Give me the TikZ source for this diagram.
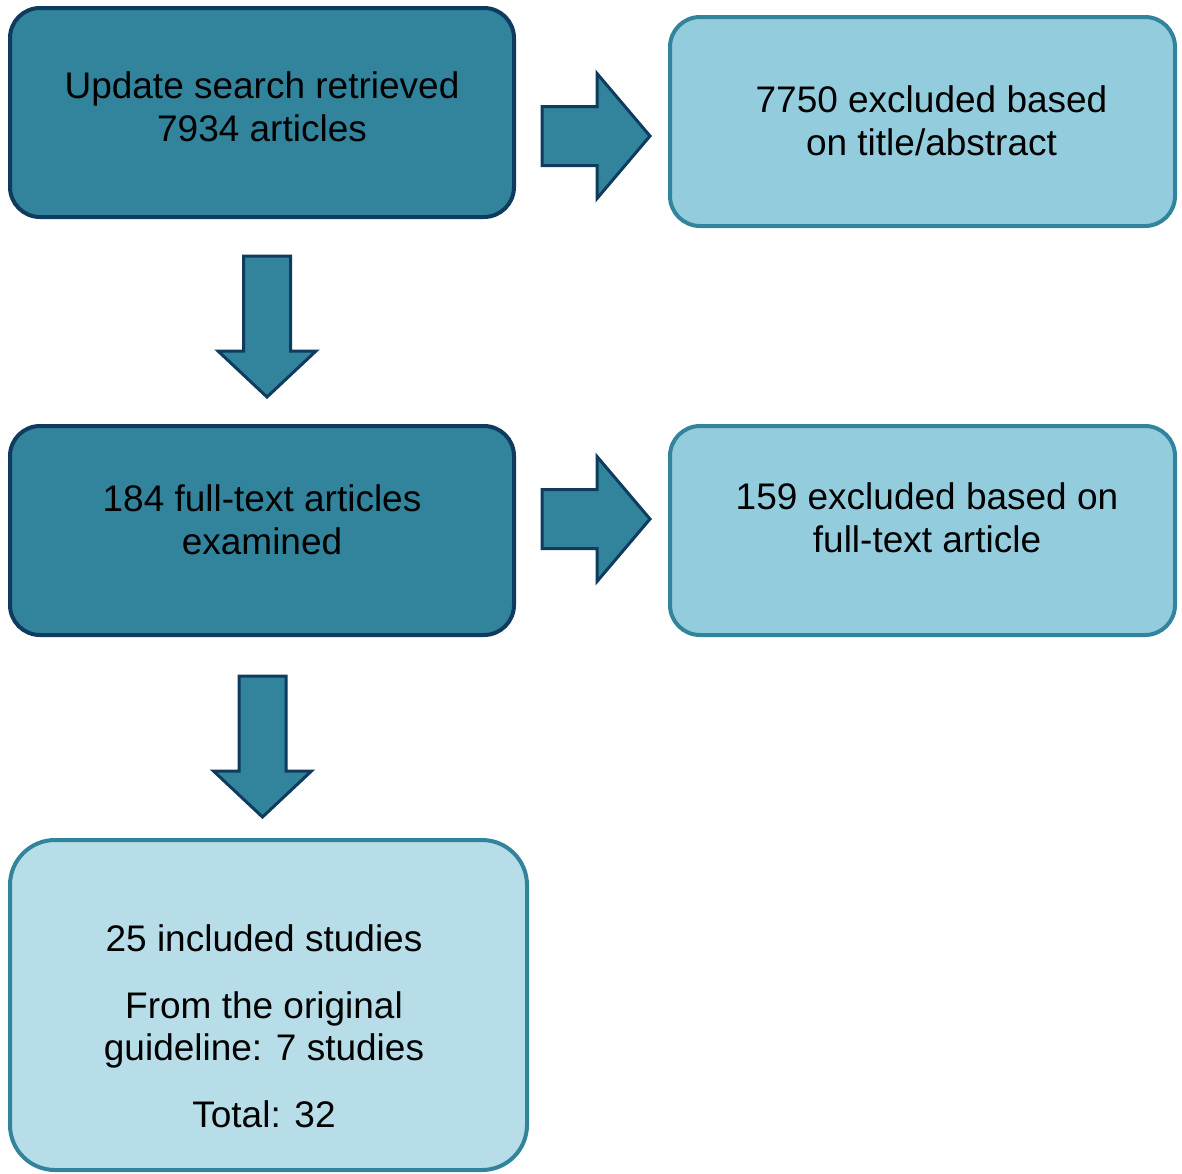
\documentclass[tikz,border=0pt]{standalone}
\usepackage{fontspec}
\setmainfont{Liberation Sans}
\usetikzlibrary{calc}
\definecolor{darkfill}{HTML}{31849B}
\definecolor{darkline}{HTML}{0F3B5F}
\definecolor{lightfill}{HTML}{93CDDD}
\definecolor{palefill}{HTML}{B7DEE8}
\definecolor{tealline}{HTML}{31849B}
\tikzset{
  darkbox/.style={draw=darkline, fill=darkfill, line width=4pt, rounded corners=30pt, inner sep=0pt},
  lightbox/.style={draw=tealline, fill=lightfill, line width=4pt, rounded corners=30pt, inner sep=0pt},
  palebox/.style={draw=tealline, fill=palefill, line width=4pt, rounded corners=45pt, inner sep=0pt},
  boxtext/.style={align=center, font=\fontsize{37pt}{42.5pt}\selectfont, inner sep=0pt},
  blockarrow/.style={draw=darkline, fill=darkfill, line width=3pt, line join=miter},
  rarr/.pic={\draw[blockarrow] (0,-29.5) -- (55,-29.5) -- (55,-62.5) -- (108,0) -- (55,62.5) -- (55,29.5) -- (0,29.5) -- cycle;},
  darr/.pic={\draw[blockarrow] (-23.5,0) -- (-23.5,95) -- (-49,95) -- (0,141) -- (49,95) -- (23.5,95) -- (23.5,0) -- cycle;}
}
\begin{document}
\begin{tikzpicture}[x=1pt,y=-1pt]
\useasboundingbox (0,0) rectangle (1182,1173);
\node[darkbox, minimum width=504pt, minimum height=209pt] (b1) at (262,112.5) {};
\node[lightbox, minimum width=505pt, minimum height=209pt] (b2) at (922.5,121.5) {};
\node[darkbox, minimum width=504pt, minimum height=209pt] (b3) at (262,530.5) {};
\node[lightbox, minimum width=505pt, minimum height=209pt] (b4) at (922.5,530.5) {};
\node[palebox, minimum width=517pt, minimum height=330pt] (b5) at (268.5,1005) {};

\node[boxtext] (t1) at ($(b1.center)+(0,-5.5)$) {Update search retrieved\\7934 articles};
\node[boxtext] (t2) at ($(b2.center)+(9,-0.5)$) {7750 excluded based\\on title/abstract};
\node[boxtext] (t3) at ($(b3.center)+(0,-10.5)$) {184 full-text articles\\examined};
\node[boxtext] (t4) at ($(b4.center)+(4.5,-12.5)$) {159 excluded based on\\full-text article};
\node[boxtext] (t5) at ($(b5.center)+(-4.5,21.5)$) {25 included studies\\[24pt]From the original\\guideline: 7 studies\\[24pt]Total: 32};

\pic at ($(b1.east)+(26,23.5)$) {rarr};
\pic at ($(b3.east)+(26,-11.5)$) {rarr};
\pic at ($(b1.south)+(5,37)$) {darr};
\pic at ($(b3.south)+(0.5,39)$) {darr};
\end{tikzpicture}
\end{document}
